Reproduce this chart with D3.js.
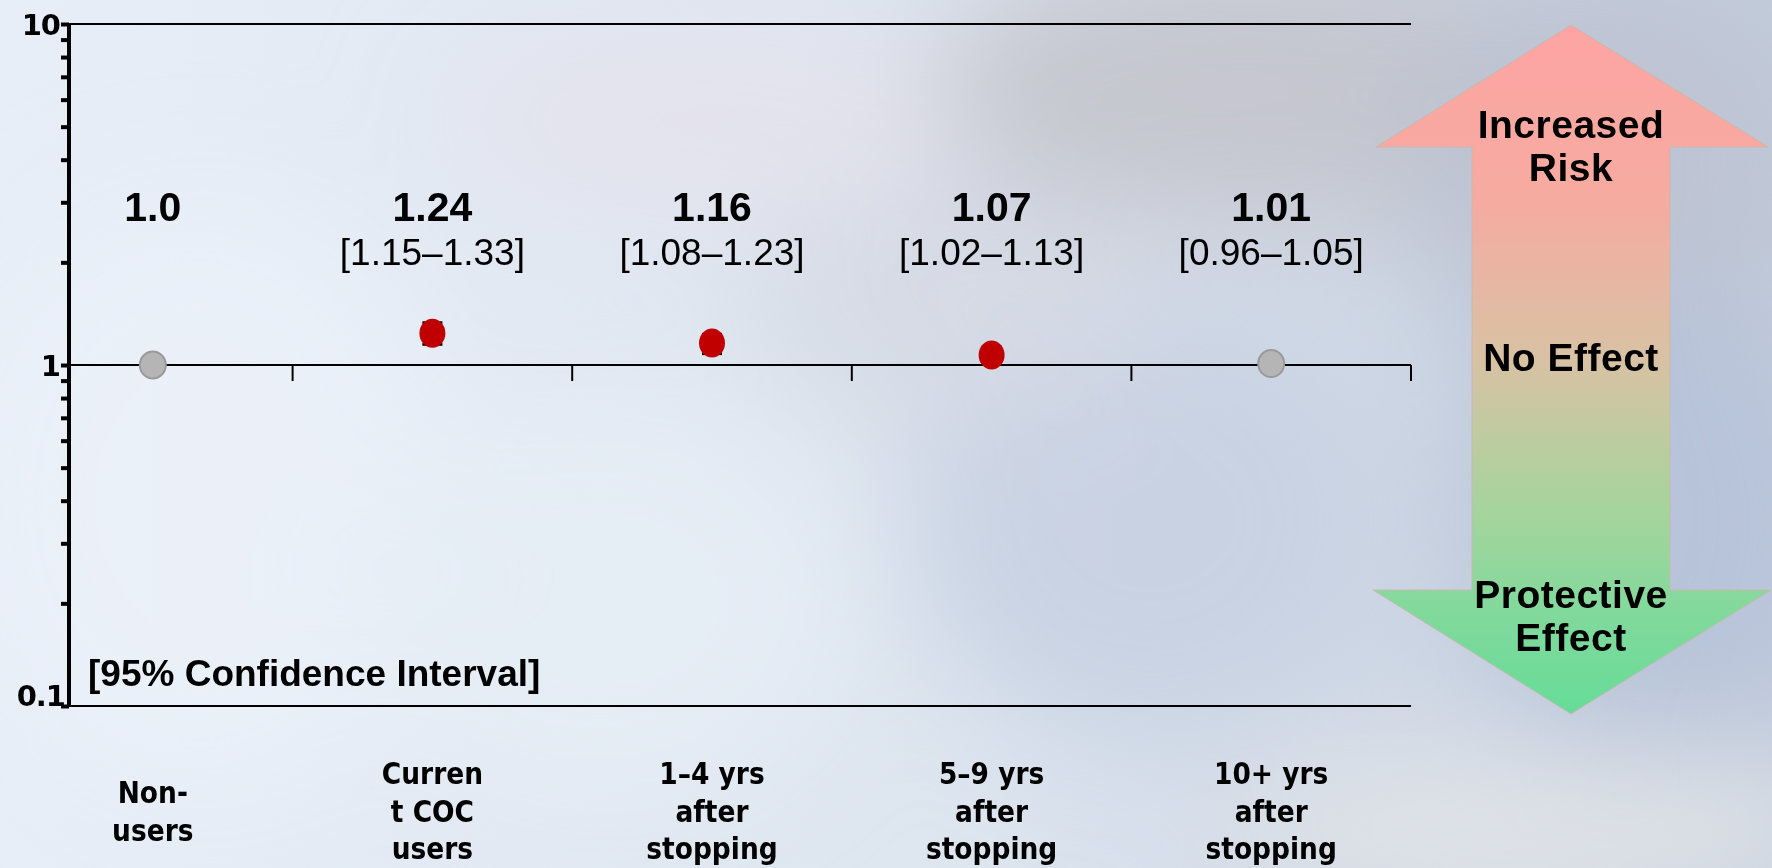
<!DOCTYPE html>
<html>
<head>
<meta charset="utf-8">
<script src="https://cdn.jsdelivr.net/npm/d3@7"></script>
<style>
  html, body { margin: 0; padding: 0; overflow: hidden; background: #e4ebf3; }
  svg { display: block; }
</style>
</head>
<body>
<svg id="chart" width="1772" height="868"></svg>
<script>
// ---------------- data ----------------
const categories = ["Non-users", "Current COC users", "1–4 yrs after stopping", "5–9 yrs after stopping", "10+ yrs after stopping"];
const categoryLines = [["Non-", "users"], ["Curren", "t COC", "users"], ["1–4 yrs", "after", "stopping"], ["5–9 yrs", "after", "stopping"], ["10+ yrs", "after", "stopping"]];
const oddsRatio = [1.0, 1.24, 1.16, 1.07, 1.01];
const ciLower = [null, 1.15, 1.08, 1.02, 0.96];
const ciUpper = [null, 1.33, 1.23, 1.13, 1.05];
const significant = [false, true, true, true, false];
const yDomain = [0.1, 10];
const yTickLabels = [0.1, 1, 10];
const arrowLabels = { top: ["Increased", "Risk"], middle: ["No Effect"], bottom: ["Protective", "Effect"] };
const ciNote = "[95% Confidence Interval]";

// ---------------- setup ----------------
const svg = d3.select("#chart");
const W = 1772, H = 868;

// background (blurred photo-like)
const defs = svg.append("defs");
defs.append("filter").attr("id", "blur").attr("x", "-50%").attr("y", "-50%").attr("width", "200%").attr("height", "200%")
  .append("feGaussianBlur").attr("stdDeviation", 60);
const bgGrad = defs.append("linearGradient").attr("id", "bgGrad").attr("x1", 0).attr("y1", 0).attr("x2", 1).attr("y2", 0);
bgGrad.append("stop").attr("offset", "0%").attr("stop-color", "#e7eef7");
bgGrad.append("stop").attr("offset", "55%").attr("stop-color", "#dde5ef");
bgGrad.append("stop").attr("offset", "100%").attr("stop-color", "#c3cddd");
svg.append("rect").attr("width", W).attr("height", H).attr("fill", "url(#bgGrad)");
const blobs = [
  { cx: 1250, cy: 90, rx: 330, ry: 140, c: "#c3c4cc" },
  { cx: 1600, cy: 160, rx: 200, ry: 200, c: "#bcc2d0" },
  { cx: 1150, cy: 520, rx: 240, ry: 220, c: "#c8d0e2" },
  { cx: 1650, cy: 520, rx: 180, ry: 240, c: "#b6c2d8" },
  { cx: 1550, cy: 830, rx: 320, ry: 80, c: "#e2e4e8" },
  { cx: 700, cy: 120, rx: 260, ry: 90, c: "#e4e2ec" },
  { cx: 200, cy: 500, rx: 250, ry: 300, c: "#ebf1f8" },
  { cx: 600, cy: 600, rx: 250, ry: 200, c: "#e6edf5" },
  { cx: 950, cy: 300, rx: 200, ry: 120, c: "#d5d9e4" }
];
svg.append("g").attr("filter", "url(#blur)")
  .selectAll("ellipse").data(blobs).join("ellipse")
  .attr("cx", d => d.cx).attr("cy", d => d.cy).attr("rx", d => d.rx).attr("ry", d => d.ry)
  .attr("fill", d => d.c).attr("opacity", 0.9);

// scales
const axisX = 69, plotRight = 1411;
const y = d3.scaleLog().domain(yDomain).range([706, 24]);
const x = d3.scaleBand().domain(categories).range([13, plotRight]).padding(0);
const cx = c => x(c) + x.bandwidth() / 2;

const chart = svg.append("g");

// horizontal reference lines at 10, 1 and 0.1
chart.selectAll("line.hline").data([10, 1, 0.1]).join("line")
  .attr("class", "hline")
  .attr("x1", axisX).attr("x2", plotRight)
  .attr("y1", d => y(d)).attr("y2", d => y(d))
  .attr("stroke", "#000").attr("stroke-width", 2.2);

// category separator ticks on the line at 1
chart.selectAll("line.ctick").data(categories).join("line")
  .attr("class", "ctick")
  .attr("x1", d => x(d) + x.bandwidth()).attr("x2", d => x(d) + x.bandwidth())
  .attr("y1", y(1)).attr("y2", y(1) + 16)
  .attr("stroke", "#000").attr("stroke-width", 2);

// y axis
const allTicks = [];
[0.1, 1].forEach(dec => { for (let k = 1; k <= 9; k++) allTicks.push(+(dec * k).toFixed(2)); });
allTicks.push(10);
const yAxis = d3.axisLeft(y).tickValues(allTicks).tickSize(8).tickPadding(9)
  .tickFormat(d => yTickLabels.includes(d) ? String(d) : "");
const ya = chart.append("g").attr("transform", `translate(${axisX},0)`).call(yAxis);
ya.select(".domain").attr("stroke", "#000").attr("stroke-width", 4).attr("d", `M0,${y(0.1)}V${y(10)}`);
ya.selectAll(".tick line").attr("stroke", "#000").attr("stroke-width", 4);
ya.selectAll(".tick text")
  .attr("fill", "#000")
  .style("font-family", "'DejaVu Sans', Verdana, sans-serif")
  .style("font-weight", "bold").style("font-size", "29px")
  .style("letter-spacing", "-1px")
  .attr("dy", d => d === 0.1 ? "-0.02em" : "0.36em")
  .attr("x", d => d === 0.1 ? -4 : -9);

// value labels
const fmtOR = (v, i) => i === 0 ? v.toFixed(1) : v.toFixed(2);
chart.selectAll("text.or").data(categories).join("text")
  .attr("class", "or")
  .attr("x", d => cx(d)).attr("y", 221)
  .attr("text-anchor", "middle")
  .style("font-family", "'Liberation Sans', Arial, sans-serif")
  .style("font-weight", "bold").style("font-size", "41px")
  .text((d, i) => fmtOR(oddsRatio[i], i));
chart.selectAll("text.ci").data(categories.filter((d, i) => ciLower[i] != null)).join("text")
  .attr("class", "ci")
  .attr("x", d => cx(d)).attr("y", 265)
  .attr("text-anchor", "middle")
  .style("font-family", "'Liberation Sans', Arial, sans-serif")
  .style("font-size", "37px")
  .text(d => { const i = categories.indexOf(d); return `[${ciLower[i].toFixed(2)}–${ciUpper[i].toFixed(2)}]`; });

// error bars
const eb = chart.selectAll("g.eb").data(categories.filter((d, i) => ciLower[i] != null)).join("g").attr("class", "eb");
eb.append("line")
  .attr("x1", d => cx(d)).attr("x2", d => cx(d))
  .attr("y1", d => y(ciUpper[categories.indexOf(d)])).attr("y2", d => y(ciLower[categories.indexOf(d)]))
  .attr("stroke", "#000").attr("stroke-width", 2);
[ciUpper, ciLower].forEach(arr => {
  eb.append("line")
    .attr("x1", d => cx(d) - 10).attr("x2", d => cx(d) + 10)
    .attr("y1", d => y(arr[categories.indexOf(d)])).attr("y2", d => y(arr[categories.indexOf(d)]))
    .attr("stroke", "#000").attr("stroke-width", 3);
});

// points
chart.selectAll("ellipse.pt").data(categories).join("ellipse")
  .attr("class", "pt")
  .attr("cx", d => cx(d)).attr("cy", (d, i) => y(oddsRatio[i]))
  .attr("rx", 13)
  .attr("ry", (d, i) => significant[i] ? 14.5 : 13.5)
  .attr("fill", (d, i) => significant[i] ? "#c00000" : "#b5b5b5")
  .attr("stroke", (d, i) => significant[i] ? "none" : "#9a9a9a")
  .attr("stroke-width", 2);

// CI note
chart.append("text")
  .attr("x", 88).attr("y", 686)
  .style("font-family", "'Liberation Sans', Arial, sans-serif")
  .style("font-weight", "bold").style("font-size", "37px")
  .text(ciNote);

// category labels (narrow bold face)
const lineH = 37.5;
chart.selectAll("text.cat").data(categories).join("text")
  .attr("class", "cat")
  .attr("text-anchor", "middle")
  .attr("transform", d => `translate(${cx(d)},0) scale(0.95,1)`)
  .style("font-family", "'DejaVu Sans', Verdana, sans-serif")
  .style("font-stretch", "condensed")
  .style("font-weight", "bold").style("font-size", "31px")
  .each(function (d, i) {
    const lines = categoryLines[i];
    const startY = 810 - (lines.length - 1) * lineH / 2 + 12;
    d3.select(this).selectAll("tspan").data(lines).join("tspan")
      .attr("x", 0).attr("y", (l, j) => startY + j * lineH)
      .text(l => l);
  });

// double-headed arrow (annotation)
const aCx = 1571, headHalf = 197, shaftHalf = 99;
const aTop = y(10) + 1, aBot = y(0.1) + 8, headTopBase = 147, headBotBase = 590;
const ag = defs.append("linearGradient").attr("id", "arrowGrad").attr("gradientUnits", "userSpaceOnUse")
  .attr("x1", 0).attr("y1", aTop).attr("x2", 0).attr("y2", aBot);
[["0%", "#fda4a3"], ["25%", "#f6aba0"], ["48%", "#d9c1a4"], ["70%", "#a7d49c"], ["85%", "#82d99c"], ["100%", "#66dc98"]]
  .forEach(([o, c]) => ag.append("stop").attr("offset", o).attr("stop-color", c));
const arrowPts = [
  [aCx, aTop], [aCx + headHalf, headTopBase], [aCx + shaftHalf, headTopBase], [aCx + shaftHalf, headBotBase],
  [aCx + headHalf + 3, headBotBase], [aCx, aBot], [aCx - headHalf - 1, headBotBase], [aCx - shaftHalf, headBotBase],
  [aCx - shaftHalf, headTopBase], [aCx - headHalf + 2, headTopBase]
];
svg.append("path")
  .attr("d", d3.line()(arrowPts) + "Z")
  .attr("fill", "url(#arrowGrad)")
  .attr("stroke", "#c8b8b0").attr("stroke-width", 1);

const arrowText = svg.append("g")
  .style("font-family", "'Liberation Sans', Arial, sans-serif")
  .style("font-weight", "bold").style("font-size", "39px")
  .style("letter-spacing", "0.5px")
  .attr("text-anchor", "middle");
const arrowTextRows = [
  [arrowLabels.top, 138], [arrowLabels.middle, 371], [arrowLabels.bottom, 608]
];
arrowTextRows.forEach(([lines, y0]) => {
  lines.forEach((l, j) => arrowText.append("text").attr("x", aCx).attr("y", y0 + j * 43).text(l));
});
</script>
</body>
</html>
